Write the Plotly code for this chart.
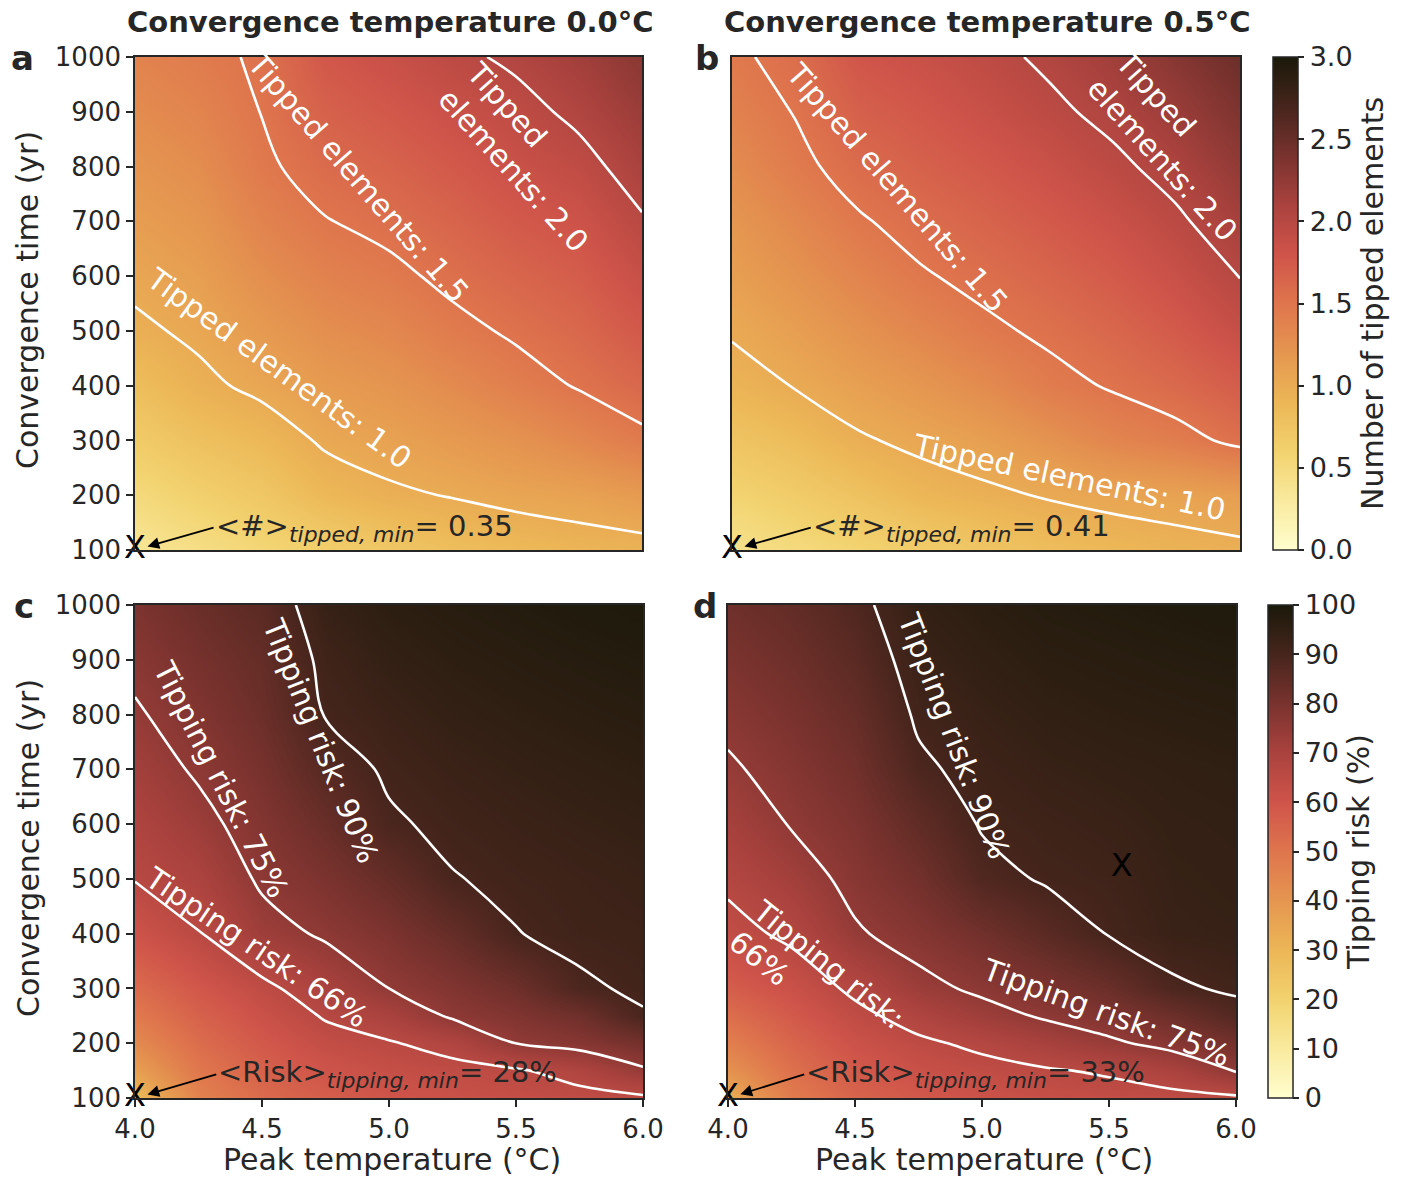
import plotly.graph_objects as go

# ---------------- data ----------------
peak_T = [4.0, 4.25, 4.5, 4.75, 5.0, 5.25, 5.5, 5.75, 6.0]
conv_time_top = [100, 200, 300, 400, 500, 600, 700, 800, 900, 1000]
conv_time_bottom = [100, 150, 200, 250, 300, 400, 500, 600, 700, 800, 900, 1000]

# number of tipped elements, convergence temperature 0.0 C (rows: conv time, cols: peak T)
tipped_conv00 = [
    [0.35, 0.45, 0.55, 0.63, 0.72, 0.81, 0.86, 0.91, 0.93],
    [0.51, 0.62, 0.72, 0.88, 0.965, 1.01, 1.06, 1.09, 1.16],
    [0.67, 0.79, 0.88, 1.03, 1.09, 1.16, 1.23, 1.33, 1.45],
    [0.82, 0.95, 1.05, 1.15, 1.21, 1.30, 1.41, 1.515, 1.62],
    [0.96, 1.04, 1.16, 1.27, 1.33, 1.44, 1.53, 1.62, 1.76],
    [1.05, 1.12, 1.27, 1.38, 1.447, 1.55, 1.64, 1.72, 1.87],
    [1.13, 1.20, 1.37, 1.49, 1.56, 1.65, 1.75, 1.82, 1.98],
    [1.21, 1.28, 1.46, 1.59, 1.66, 1.75, 1.85, 1.925, 2.10],
    [1.29, 1.36, 1.505, 1.68, 1.76, 1.85, 1.925, 2.05, 2.20],
    [1.37, 1.44, 1.53, 1.77, 1.86, 1.95, 2.04, 2.15, 2.30],
]
# number of tipped elements, convergence temperature 0.5 C
tipped_conv05 = [
    [0.41, 0.50, 0.58, 0.66, 0.74, 0.82, 0.88, 0.93, 0.96],
    [0.58, 0.67, 0.78, 0.90, 0.958, 1.018, 1.062, 1.085, 1.127],
    [0.75, 0.84, 0.976, 1.05, 1.12, 1.23, 1.353, 1.427, 1.551],
    [0.92, 1.01, 1.11, 1.20, 1.30, 1.435, 1.52, 1.61, 1.72],
    [1.02, 1.12, 1.24, 1.345, 1.46, 1.54, 1.63, 1.745, 1.88],
    [1.11, 1.23, 1.36, 1.481, 1.56, 1.645, 1.74, 1.86, 2.005],
    [1.20, 1.33, 1.478, 1.58, 1.66, 1.75, 1.845, 1.964, 2.13],
    [1.29, 1.443, 1.59, 1.68, 1.76, 1.85, 1.951, 2.08, 2.25],
    [1.38, 1.51, 1.69, 1.77, 1.86, 1.954, 2.06, 2.20, 2.37],
    [1.46, 1.57, 1.79, 1.86, 1.94, 2.04, 2.16, 2.32, 2.48],
]
# tipping risk (%), convergence temperature 0.0 C
risk_conv00 = [
    [28, 46, 53, 57, 60, 61.5, 63, 64, 65],
    [37, 49.3, 55.8, 60.2, 62.7, 64.1, 65.3, 68.5, 74.0],
    [43.5, 52.6, 58.6, 63.4, 65.5, 68.3, 75.1, 77.3, 81.1],
    [48.5, 55.8, 61.4, 66.6, 70.0, 75.9, 78.6, 82.0, 89.5],
    [53, 59.1, 64.3, 70.0, 75.0, 78.5, 82.2, 89.0, 91.0],
    [60.5, 65.7, 72.5, 75.9, 79.3, 83.9, 89.8, 91.5, 92.0],
    [66.3, 69.4, 76.0, 79.6, 84.0, 89.7, 91.2, 92.1, 92.9],
    [68.9, 72.9, 78.2, 83.2, 89.2, 91.3, 92.5, 93.4, 94.2],
    [71.5, 75.9, 80.4, 86.9, 90.9, 92.7, 93.8, 94.7, 95.4],
    [74.2, 78.3, 82.6, 90.3, 92.5, 94.2, 95.2, 96.0, 96.7],
    [76.7, 80.6, 84.0, 91.5, 94.2, 95.6, 96.5, 97.3, 97.9],
    [79.3, 83.0, 86.0, 93.5, 95.8, 97.0, 97.8, 98.6, 99.2],
]
# tipping risk (%), convergence temperature 0.5 C
risk_conv05 = [
    [33, 48, 55, 58.5, 61, 62.5, 63.5, 64.2, 65],
    [41, 51.4, 58.1, 61.7, 63.9, 65.4, 66.8, 69.7, 75.5],
    [47, 54.8, 61.1, 64.8, 67.4, 70.6, 73.8, 77.2, 81.1],
    [52, 58.2, 64.2, 68.7, 72.5, 75.8, 78.6, 82.4, 87.5],
    [57, 61.6, 67.4, 73.0, 76.3, 79.3, 83.0, 88.9, 91.0],
    [63.5, 67.5, 74.2, 77.7, 81.5, 86.1, 90.3, 93.0, 93.5],
    [67.5, 71.6, 77.0, 81.3, 88.0, 90.6, 91.5, 93.5, 94.0],
    [70.8, 75.4, 79.2, 84.9, 90.5, 91.9, 92.8, 94.0, 94.4],
    [74.0, 77.7, 81.5, 88.9, 91.9, 93.3, 94.1, 94.7, 95.2],
    [76.8, 79.9, 83.7, 90.9, 93.2, 94.6, 95.4, 95.9, 96.4],
    [79.4, 82.2, 86.0, 92.6, 94.6, 96.0, 96.6, 97.2, 97.6],
    [82.0, 84.4, 88.2, 94.2, 96.0, 97.3, 97.9, 98.4, 98.9],
]

tipped_levels = [1.0, 1.5, 2.0]
risk_levels = [66, 75, 90]

min_T = [4.0, 4.0, 4.0, 4.0]
min_t = [100, 100, 100, 100]
min_values = [0.35, 0.41, 28, 33]
extra_marker_T = [5.55]
extra_marker_t = [520]

column_titles = ["Convergence temperature 0.0°C", "Convergence temperature 0.5°C"]
panel_letters = ["a", "b", "c", "d"]
x_ticks = [4.0, 4.5, 5.0, 5.5, 6.0]
y_ticks = [100, 200, 300, 400, 500, 600, 700, 800, 900, 1000]
cbar1_ticks = [0.0, 0.5, 1.0, 1.5, 2.0, 2.5, 3.0]
cbar2_ticks = [0, 10, 20, 30, 40, 50, 60, 70, 80, 90, 100]

# ---------------- style ----------------
W, H = 1415, 1178
FONT = "DejaVu Sans"
INK = "#262626"

lajolla = [
    [0.0, "rgb(255,254,206)"], [0.1, "rgb(249,234,158)"], [0.2, "rgb(242,210,110)"],
    [0.3, "rgb(236,182,86)"], [0.4, "rgb(229,150,80)"], [0.5, "rgb(223,117,77)"],
    [0.6, "rgb(207,84,74)"], [0.7, "rgb(170,66,62)"], [0.8, "rgb(121,50,46)"],
    [0.9, "rgb(70,37,28)"], [1.0, "rgb(26,25,10)"],
]


def fx(px):
    return px / W


def fy(py):
    return 1 - py / H


panels = [
    dict(z=tipped_conv00, y=conv_time_top, xa="x", ya="y", ca="coloraxis", levels=tipped_levels),
    dict(z=tipped_conv05, y=conv_time_top, xa="x2", ya="y2", ca="coloraxis", levels=tipped_levels),
    dict(z=risk_conv00, y=conv_time_bottom, xa="x3", ya="y3", ca="coloraxis2", levels=risk_levels),
    dict(z=risk_conv05, y=conv_time_bottom, xa="x4", ya="y4", ca="coloraxis2", levels=risk_levels),
]

fig = go.Figure()
for p in panels:
    fig.add_trace(go.Heatmap(x=peak_T, y=p["y"], z=p["z"], zsmooth="best",
                             coloraxis=p["ca"], xaxis=p["xa"], yaxis=p["ya"],
                             hoverinfo="skip"))
    for lvl in p["levels"]:
        fig.add_trace(go.Contour(x=peak_T, y=p["y"], z=p["z"], autocontour=False,
                                 contours=dict(coloring="none", start=lvl, end=lvl, size=1),
                                 line=dict(color="white", width=2.6, smoothing=1.0),
                                 showscale=False, hoverinfo="skip",
                                 xaxis=p["xa"], yaxis=p["ya"]))

for i, p in enumerate(panels):
    fig.add_trace(go.Scatter(x=[min_T[i]], y=[min_t[i]], mode="text", text=["X"],
                             textfont=dict(family=FONT, size=32, color="black"),
                             textposition="middle center", cliponaxis=False,
                             showlegend=False, hoverinfo="skip",
                             xaxis=p["xa"], yaxis=p["ya"]))
fig.add_trace(go.Scatter(x=extra_marker_T, y=extra_marker_t, mode="text", text=["X"],
                         textfont=dict(family=FONT, size=32, color="black"),
                         textposition="middle center", showlegend=False, hoverinfo="skip",
                         xaxis="x4", yaxis="y4"))

axis_common = dict(showline=True, mirror=True, linecolor=INK, linewidth=1.6,
                   showgrid=False, zeroline=False, tickcolor=INK, tickwidth=1.6,
                   ticklen=7, automargin=False,
                   tickfont=dict(family=FONT, size=26, color=INK))


def xaxis(dom, anchor, labels):
    d = dict(axis_common, domain=dom, anchor=anchor, range=[4, 6], tickvals=x_ticks,
             ticktext=[f"{v:.1f}" for v in x_ticks])
    d["ticks"] = "outside" if labels else ""
    d["showticklabels"] = labels
    return d


def yaxis(dom, anchor, labels):
    d = dict(axis_common, domain=dom, anchor=anchor, range=[100, 1000], tickvals=y_ticks,
             ticktext=[str(v) for v in y_ticks])
    d["ticks"] = "outside" if labels else ""
    d["showticklabels"] = labels
    return d


top_dom = [fy(550), fy(57)]
bot_dom = [fy(1098), fy(605)]

cbar_common = dict(thickness=25, lenmode="fraction", len=493 / H, xanchor="left",
                   xpad=0, ypad=0, yanchor="middle", outlinewidth=1.5, outlinecolor=INK,
                   ticks="outside", ticklen=6, tickwidth=1.5, tickcolor=INK,
                   tickfont=dict(family=FONT, size=27, color=INK))

fig.update_layout(
    width=W, height=H, margin=dict(l=0, r=0, t=0, b=0, pad=0, autoexpand=False),
    paper_bgcolor="white", plot_bgcolor="white", showlegend=False,
    font=dict(family=FONT, color=INK),
    xaxis=xaxis([fx(135), fx(642)], "y", False),
    yaxis=yaxis(top_dom, "x", True),
    xaxis2=xaxis([fx(732), fx(1240)], "y2", False),
    yaxis2=yaxis(top_dom, "x2", False),
    xaxis3=xaxis([fx(135), fx(643)], "y3", True),
    yaxis3=yaxis(bot_dom, "x3", True),
    xaxis4=xaxis([fx(728), fx(1236)], "y4", True),
    yaxis4=yaxis(bot_dom, "x4", False),
    coloraxis=dict(colorscale=lajolla, cmin=0, cmax=3,
                   colorbar=dict(cbar_common, x=fx(1273), y=fy(303.5),
                                 tickvals=cbar1_ticks,
                                 ticktext=[f"{v:.1f}" for v in cbar1_ticks],
                                 title=dict(text="Number of tipped elements", side="right",
                                            font=dict(family=FONT, size=30, color=INK)))),
    coloraxis2=dict(colorscale=lajolla, cmin=0, cmax=100,
                    colorbar=dict(cbar_common, x=fx(1268), y=fy(851.5),
                                  tickvals=cbar2_ticks,
                                  ticktext=[str(v) for v in cbar2_ticks],
                                  title=dict(text="Tipping risk (%)", side="right",
                                             font=dict(family=FONT, size=30, color=INK)))),
)

ann = []
# column titles
for txt, cx in zip(column_titles, [390, 987]):
    ann.append(dict(text=f"<b>{txt}</b>", x=fx(cx), y=fy(22), xref="paper", yref="paper",
                    showarrow=False, font=dict(family=FONT, size=29, color=INK),
                    xanchor="center", yanchor="middle"))
# panel letters
for letter, (px, py) in zip(panel_letters, [(22, 58), (707, 58), (24, 606), (705, 606)]):
    ann.append(dict(text=f"<b>{letter}</b>", x=fx(px), y=fy(py), xref="paper", yref="paper",
                    showarrow=False, font=dict(family=FONT, size=34, color=INK),
                    xanchor="center", yanchor="middle"))
# axis titles
for cy in [300, 848]:
    ann.append(dict(text="Convergence time (yr)", x=fx(28), y=fy(cy), xref="paper", yref="paper",
                    showarrow=False, textangle=-90, font=dict(family=FONT, size=30, color=INK),
                    xanchor="center", yanchor="middle"))
for cx in [392, 984]:
    ann.append(dict(text="Peak temperature (°C)", x=fx(cx), y=fy(1159), xref="paper", yref="paper",
                    showarrow=False, font=dict(family=FONT, size=30, color=INK),
                    xanchor="center", yanchor="middle"))

# contour labels (text, T, t, angle)
contour_labels = [
    ("x", "y", [("Tipped elements: 1.0", 4.57, 432, 36), ("Tipped elements: 1.5", 4.88, 780, 49),
                ("Tipped<br>elements: 2.0", 5.55, 818, 48)]),
    ("x2", "y2", [("Tipped elements: 1.0", 5.33, 232, 12), ("Tipped elements: 1.5", 4.65, 762, 49),
                  ("Tipped<br>elements: 2.0", 5.75, 838, 48)]),
    ("x3", "y3", [("Tipping risk: 66%", 4.48, 374, 34), ("Tipping risk: 75%", 4.34, 682, 63),
                  ("Tipping risk: 90%", 4.73, 752, 68)]),
    ("x4", "y4", [("Tipping risk:<br>66%", 4.35, 315, 39), ("Tipping risk: 75%", 5.49, 257, 20),
                  ("Tipping risk: 90%", 4.89, 762, 69)]),
]
for xa, ya, labs in contour_labels:
    for txt, tx, ty, ang in labs:
        ann.append(dict(text=txt, x=tx, y=ty, xref=xa, yref=ya, showarrow=False,
                        textangle=ang, align="left",
                        font=dict(family=FONT, size=30, color="white"),
                        xanchor="center", yanchor="middle"))


# minimum annotations with arrows pointing to the minimum marker
def sub_it(s):
    return f"<sub><span style='font-size:22px'><i>{s}</i></span></sub>"


min_texts = [
    "&lt;#&gt;" + sub_it("tipped, min") + "= " + f"{min_values[0]:.2f}",
    "&lt;#&gt;" + sub_it("tipped, min") + "= " + f"{min_values[1]:.2f}",
    "&lt;Risk&gt;" + sub_it("tipping, min") + "= " + f"{min_values[2]:.0f}%",
    "&lt;Risk&gt;" + sub_it("tipping, min") + "= " + f"{min_values[3]:.0f}%",
]
text_pos = [(4.31, 141), (4.31, 141), (4.32, 143), (4.30, 143)]
for i, (xa, ya) in enumerate([("x", "y"), ("x2", "y2"), ("x3", "y3"), ("x4", "y4")]):
    tx, ty = text_pos[i]
    ann.append(dict(text=min_texts[i], x=min_T[i], y=min_t[i], xref=xa, yref=ya,
                    showarrow=True, ax=tx, ay=ty, axref=xa, ayref=ya,
                    xanchor="left", yanchor="middle",
                    arrowhead=2, arrowsize=1.3, arrowwidth=1.8, arrowcolor="black", standoff=13,
                    font=dict(family=FONT, size=29, color=INK)))

fig.update_layout(annotations=ann)
fig.write_html("out.html")
